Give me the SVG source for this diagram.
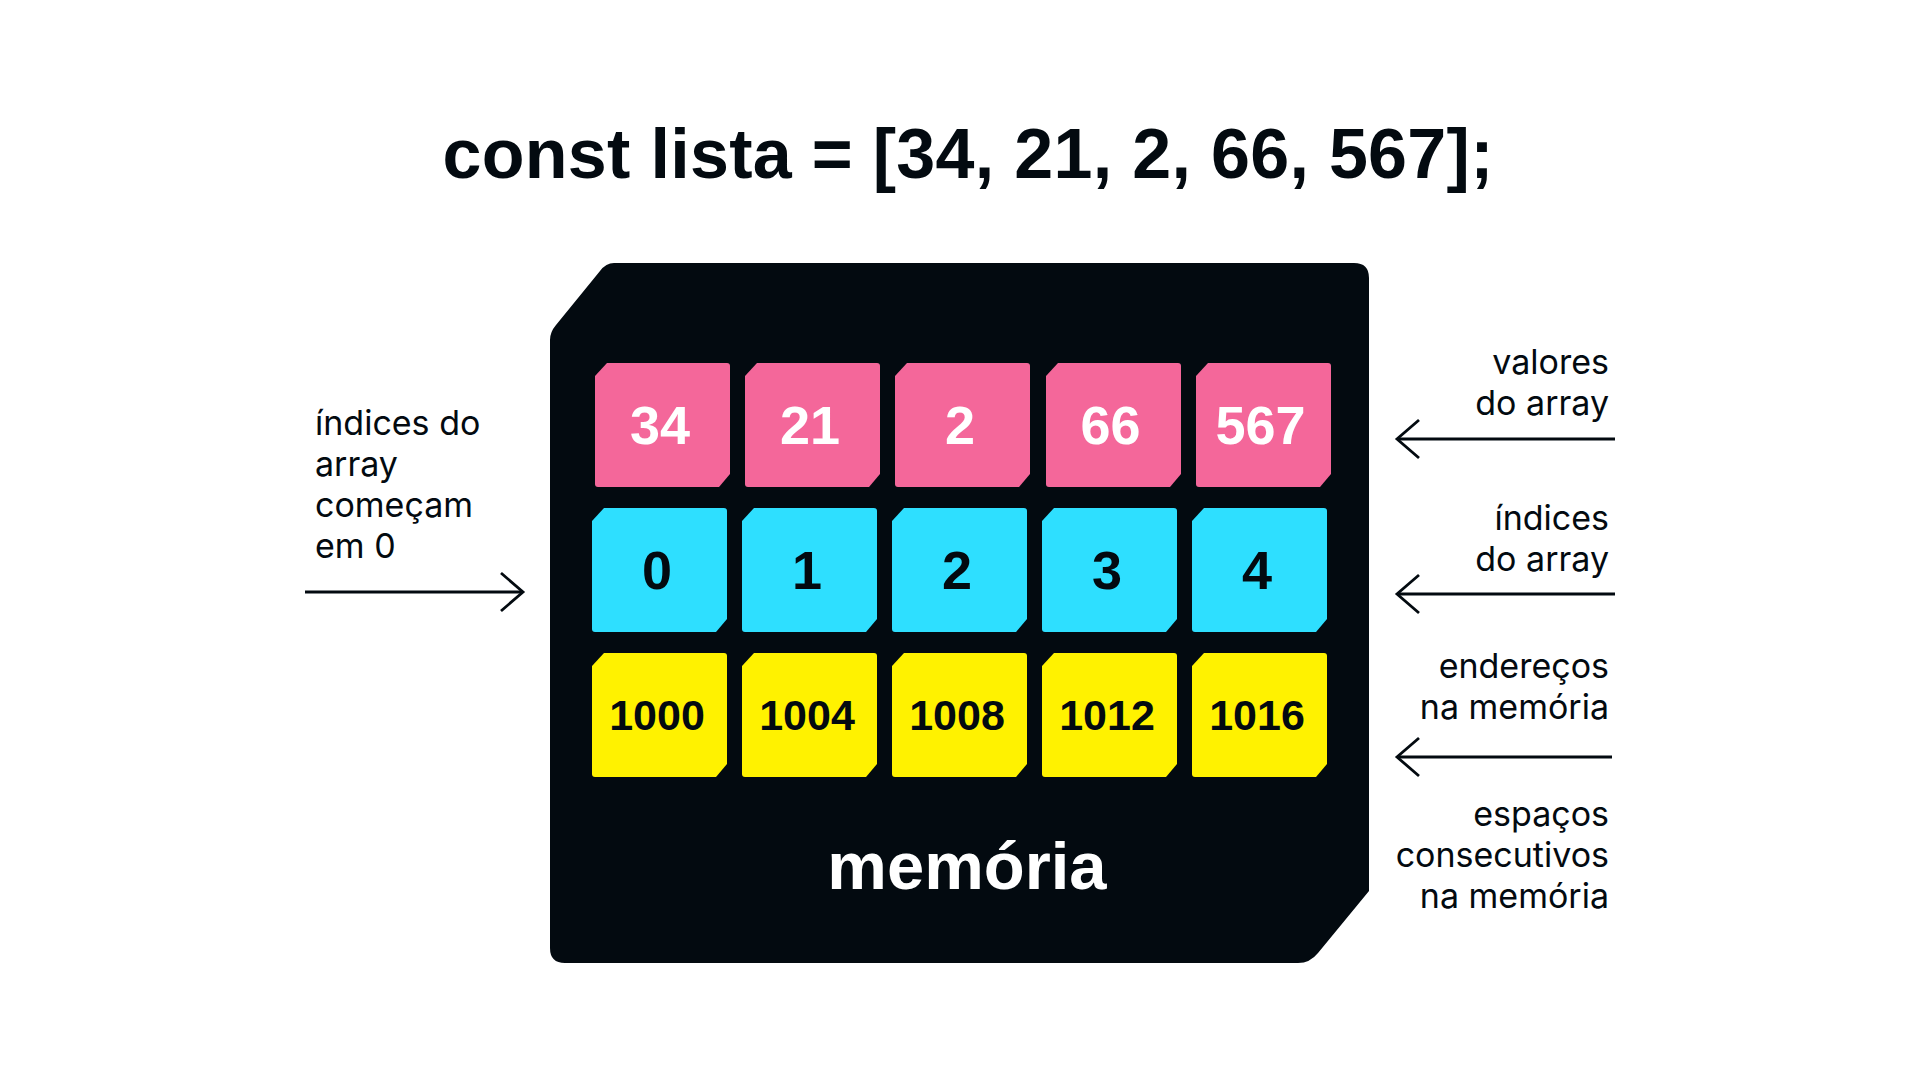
<svg xmlns="http://www.w3.org/2000/svg" width="1920" height="1080" viewBox="0 0 1920 1080">
  <defs>
    <style>
      .title { font-family: "Liberation Sans", Arial, sans-serif; font-weight: 700; font-size: 70px; fill: #030a10; }
      .lbl { font-family: Inter, "Noto Sans", "DejaVu Sans", sans-serif; font-size: 34px; fill: #030a10; }
      .lbl-r { text-anchor: end; }
      .val { font-family: "Liberation Sans", Arial, sans-serif; font-weight: 700; font-size: 54px; fill: #ffffff; text-anchor: middle; }
      .idx { font-family: "Liberation Sans", Arial, sans-serif; font-weight: 700; font-size: 54px; fill: #030a10; text-anchor: middle; }
      .addr { font-family: "Liberation Sans", Arial, sans-serif; font-weight: 700; font-size: 43px; fill: #030a10; text-anchor: middle; }
      .mem { font-family: "Liberation Sans", Arial, sans-serif; font-weight: 700; font-size: 67px; fill: #ffffff; text-anchor: middle; }
      .pink { fill: #f4679a; }
      .cyan { fill: #2edfff; }
      .yellow { fill: #fff200; }
      .conn { fill: none; stroke: #030a10; stroke-width: 2.8; }
    </style>
    <path id="cell" d="M12,0 H132 Q135,0 135,3 V111 L124,124 H3 Q0,124 0,121 V13 Z"/>
    <marker id="chev" viewBox="-26 -22 30 44" refX="0" refY="0" markerWidth="30" markerHeight="44" markerUnits="userSpaceOnUse" orient="auto" overflow="visible">
      <path d="M-22,-19 L0,0 L-22,19" fill="none" stroke="#030a10" stroke-width="2.8"/>
    </marker>
  </defs>

  <rect width="1920" height="1080" fill="#ffffff"/>

  <text id="title" class="title" x="968" y="178" text-anchor="middle" textLength="1051" lengthAdjust="spacing">const lista = [34, 21, 2, 66, 567];</text>

  <g id="memoria">
    <path d="M614,263 H1354 Q1369,263 1369,278 V891 L1318,953 Q1310,963 1298,963 H565 Q550,963 550,948 V340 Q550,332 556,325 L600,271 Q606,263 614,263 Z" fill="#030a10"/>
    <text class="mem" x="967" y="889">memória</text>
  </g>

  <g id="valores">
    <g id="v0"><use href="#cell" class="pink" x="595" y="363"/><text class="val" x="660" y="444">34</text></g>
    <g id="v1"><use href="#cell" class="pink" x="745" y="363"/><text class="val" x="810" y="444">21</text></g>
    <g id="v2"><use href="#cell" class="pink" x="895" y="363"/><text class="val" x="960" y="444">2</text></g>
    <g id="v3"><use href="#cell" class="pink" x="1046" y="363"/><text class="val" x="1110.5" y="444">66</text></g>
    <g id="v4"><use href="#cell" class="pink" x="1196" y="363"/><text class="val" x="1260.5" y="444">567</text></g>
  </g>

  <g id="indices">
    <g id="i0"><use href="#cell" class="cyan" x="592" y="508"/><text class="idx" x="657" y="589">0</text></g>
    <g id="i1"><use href="#cell" class="cyan" x="742" y="508"/><text class="idx" x="807" y="589">1</text></g>
    <g id="i2"><use href="#cell" class="cyan" x="892" y="508"/><text class="idx" x="957" y="589">2</text></g>
    <g id="i3"><use href="#cell" class="cyan" x="1042" y="508"/><text class="idx" x="1107" y="589">3</text></g>
    <g id="i4"><use href="#cell" class="cyan" x="1192" y="508"/><text class="idx" x="1257" y="589">4</text></g>
  </g>

  <g id="enderecos">
    <g id="a0"><use href="#cell" class="yellow" x="592" y="653"/><text class="addr" x="657" y="730">1000</text></g>
    <g id="a1"><use href="#cell" class="yellow" x="742" y="653"/><text class="addr" x="807" y="730">1004</text></g>
    <g id="a2"><use href="#cell" class="yellow" x="892" y="653"/><text class="addr" x="957" y="730">1008</text></g>
    <g id="a3"><use href="#cell" class="yellow" x="1042" y="653"/><text class="addr" x="1107" y="730">1012</text></g>
    <g id="a4"><use href="#cell" class="yellow" x="1192" y="653"/><text class="addr" x="1257" y="730">1016</text></g>
  </g>

  <g id="label-left">
    <text class="lbl" x="315" y="435">índices do</text>
    <text class="lbl" x="315" y="476">array</text>
    <text class="lbl" x="315" y="517">começam</text>
    <text class="lbl" x="315" y="558">em 0</text>
  </g>
  <g id="label-valores">
    <text class="lbl lbl-r" x="1609" y="374">valores</text>
    <text class="lbl lbl-r" x="1609" y="415">do array</text>
  </g>
  <g id="label-indices">
    <text class="lbl lbl-r" x="1609" y="530">índices</text>
    <text class="lbl lbl-r" x="1609" y="571">do array</text>
  </g>
  <g id="label-enderecos">
    <text class="lbl lbl-r" x="1609" y="678">endereços</text>
    <text class="lbl lbl-r" x="1609" y="719">na memória</text>
  </g>
  <g id="label-espacos">
    <text class="lbl lbl-r" x="1609" y="826">espaços</text>
    <text class="lbl lbl-r" x="1609" y="867">consecutivos</text>
    <text class="lbl lbl-r" x="1609" y="908">na memória</text>
  </g>

  <g id="connectors">
    <path class="conn" d="M305,592 H523" marker-end="url(#chev)"/>
    <path class="conn" d="M1615,439 H1397" marker-end="url(#chev)"/>
    <path class="conn" d="M1615,594 H1397" marker-end="url(#chev)"/>
    <path class="conn" d="M1612,757 H1397" marker-end="url(#chev)"/>
  </g>
</svg>
